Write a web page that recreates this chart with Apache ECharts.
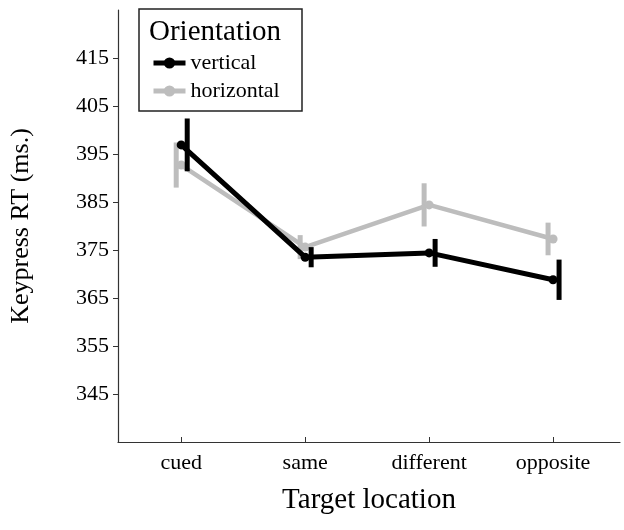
<!DOCTYPE html>
<html>
<head>
<meta charset="utf-8">
<script src="https://cdn.jsdelivr.net/npm/echarts@6/dist/echarts.min.js"></script>
<style>
  html, body { margin: 0; padding: 0; background: #fff; }
  #chart { width: 624px; height: 530px; }
</style>
</head>
<body>
<div id="chart"></div>
<script>
// target locations and mean keypress RT per orientation
const categories = ['cued', 'same', 'different', 'opposite']
const verticalRT = [396.9, 373.5, 374.4, 368.8]
const verticalErr = [5.5, 2.1, 2.9, 4.2]
const horizontalRT = [392.7, 375.6, 384.4, 377.3]
const horizontalErr = [4.7, 2.5, 4.5, 3.4]
const yTicks = [345, 355, 365, 375, 385, 395, 405, 415]

const FONT = 'Liberation Serif'

const toPoints = (vals) => vals.map((v, i) => [i, v])
const toBars = (vals, errs) => vals.map((v, i) => [i, v - errs[i], v + errs[i]])

// error bars are drawn a few px beside the point, like in the figure
const errorBarRenderer = (dx, color) => (params, api) => {
  const lo = api.coord([api.value(0), api.value(1)])
  const hi = api.coord([api.value(0), api.value(2)])
  return {
    type: 'line',
    shape: { x1: lo[0] + dx, y1: lo[1], x2: hi[0] + dx, y2: hi[1] },
    style: { stroke: color, lineWidth: 5 },
  }
}

const chart = echarts.init(document.getElementById('chart'))

chart.setOption({
  animation: false,
  grid: { left: 118, top: 10, right: 4, bottom: 88 },
  legend: {
    left: 146,
    top: 47,
    orient: 'vertical',
    itemWidth: 32,
    itemHeight: 14,
    itemGap: 6,
    data: ['vertical', 'horizontal'],
    lineStyle: { width: 5 },
    textStyle: { fontFamily: FONT, fontSize: 22, color: '#000' },
  },
  graphic: [
    {
      type: 'rect',
      shape: { x: 139, y: 9, width: 163, height: 102 },
      style: { fill: '#fff', stroke: '#222', lineWidth: 1.5 },
      z: 0,
      silent: true,
    },
    {
      type: 'text',
      left: 149,
      top: 18,
      style: { text: 'Orientation', font: '29px "Liberation Serif"', fill: '#000' },
      z: 1,
    },
  ],
  xAxis: {
    type: 'value',
    min: -0.51,
    max: 3.54,
    name: 'Target location',
    nameLocation: 'middle',
    nameGap: 44,
    nameTextStyle: { fontFamily: FONT, fontSize: 29, color: '#000' },
    splitLine: { show: false },
    axisLine: { onZero: false, lineStyle: { color: '#333', width: 1.2 } },
    axisTick: { inside: true, length: 5, customValues: [0, 1, 2, 3], lineStyle: { color: '#333' } },
    axisLabel: {
      customValues: [0, 1, 2, 3],
      formatter: (v) => categories[Math.round(v)],
      margin: 10,
      fontFamily: FONT,
      fontSize: 22,
      color: '#000',
    },
  },
  yAxis: {
    type: 'value',
    min: 335,
    max: 425,
    name: 'Keypress RT (ms.)',
    nameLocation: 'middle',
    nameGap: 84,
    nameTextStyle: { fontFamily: FONT, fontSize: 26, color: '#000' },
    splitLine: { show: false },
    axisLine: { show: true, onZero: false, lineStyle: { color: '#333', width: 1.2 } },
    axisTick: { show: true, length: 5, customValues: yTicks, lineStyle: { color: '#333' } },
    axisLabel: {
      customValues: yTicks,
      margin: 9,
      fontFamily: FONT,
      fontSize: 22,
      color: '#000',
    },
  },
  series: [
    {
      name: 'horizontal',
      type: 'line',
      data: toPoints(horizontalRT),
      symbol: 'circle',
      symbolSize: 9,
      lineStyle: { color: '#bdbdbd', width: 4.5 },
      itemStyle: { color: '#bdbdbd' },
      z: 2,
    },
    {
      type: 'custom',
      data: toBars(horizontalRT, horizontalErr),
      renderItem: errorBarRenderer(-5, '#bdbdbd'),
      encode: { x: 0, y: [1, 2] },
      z: 2,
    },
    {
      name: 'vertical',
      type: 'line',
      data: toPoints(verticalRT),
      symbol: 'circle',
      symbolSize: 9,
      lineStyle: { color: '#000', width: 5 },
      itemStyle: { color: '#000' },
      z: 3,
    },
    {
      type: 'custom',
      data: toBars(verticalRT, verticalErr),
      renderItem: errorBarRenderer(6, '#000'),
      encode: { x: 0, y: [1, 2] },
      z: 3,
    },
  ],
})
</script>
</body>
</html>
